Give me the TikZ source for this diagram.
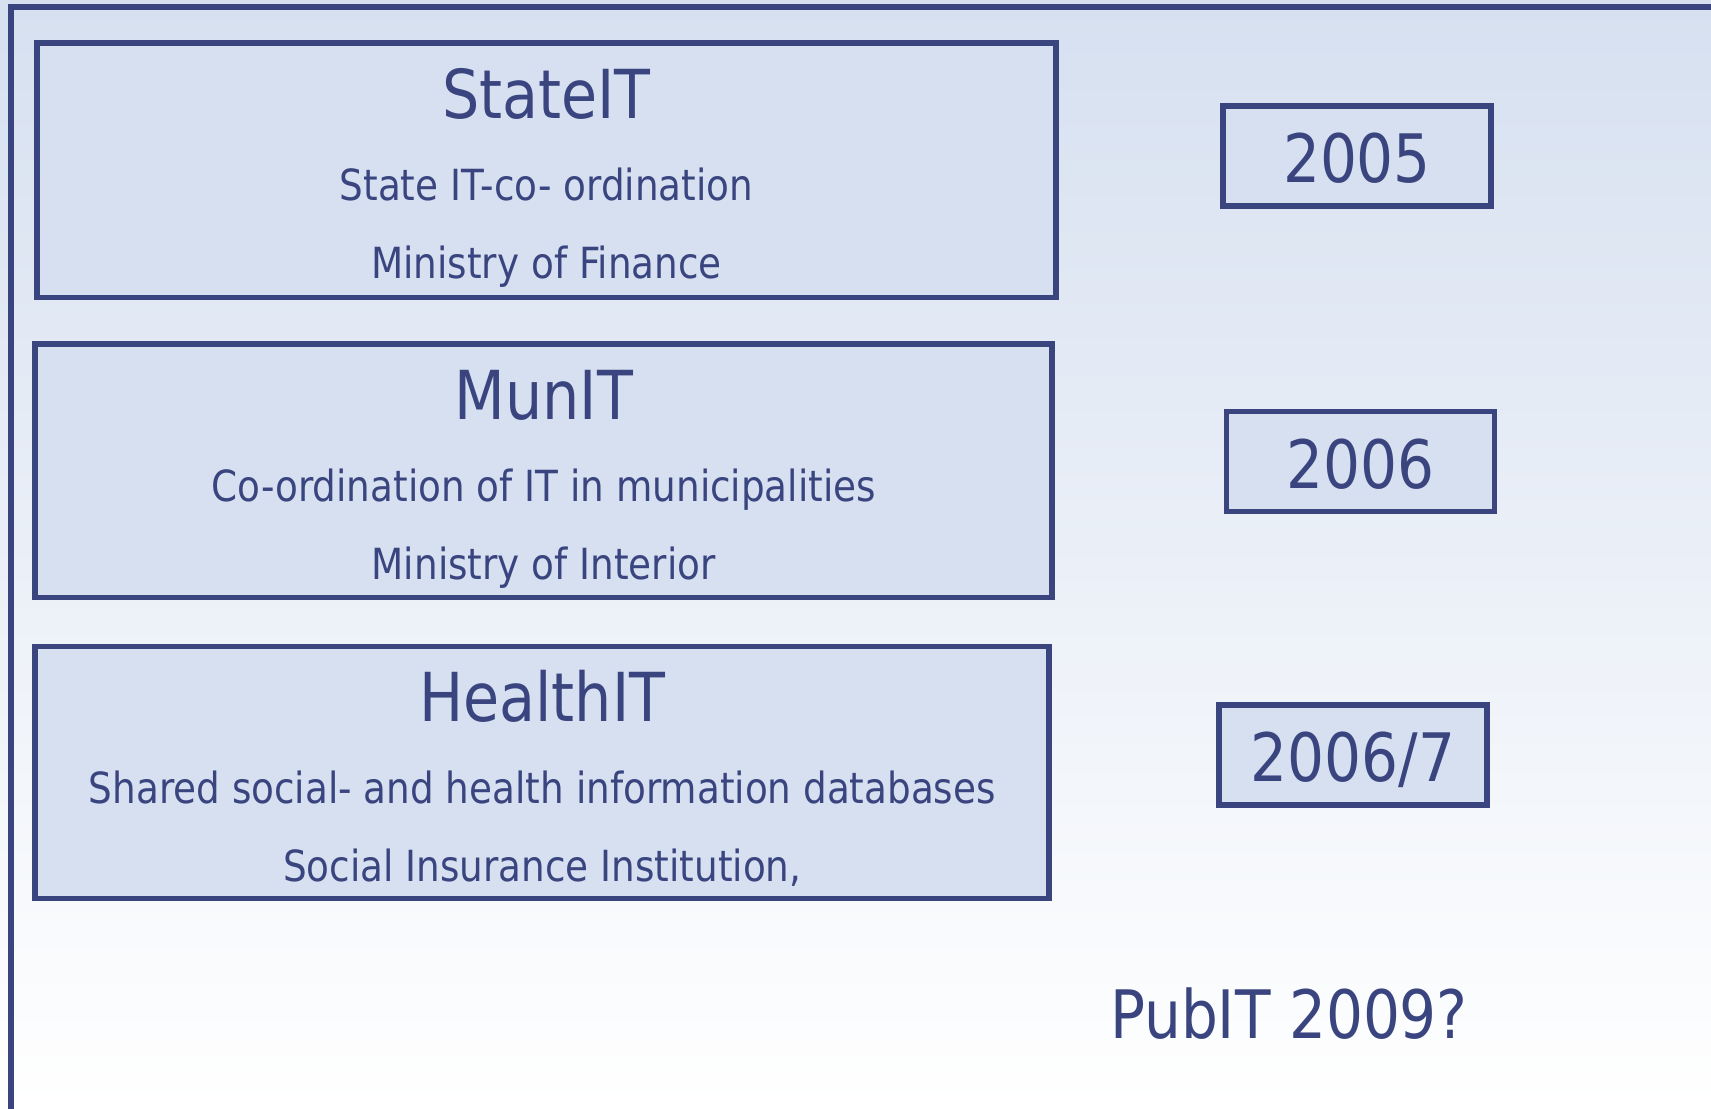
\documentclass[tikz,border=0pt]{standalone}
\usepackage{fontspec}
\setmainfont{DejaVu Sans}[FakeStretch=0.87]
\definecolor{navy}{RGB}{58,69,128}
\definecolor{paleblue}{RGB}{214,224,240}
\begin{document}
\begin{tikzpicture}[x=0.01cm, y=-0.01cm,
  unit/.style={draw=navy, line width=1.6pt, fill=paleblue, rectangle, inner sep=0pt},
  year/.style={draw=navy, line width=1.6pt, fill=paleblue, rectangle, inner sep=0pt, minimum width=2.68cm, minimum height=1cm},
  head/.style={text=navy, anchor=base, inner sep=0pt, font=\fontsize{19.2}{22}\selectfont},
  sub/.style={text=navy, anchor=base, inner sep=0pt, font=\fontsize{12.2}{15}\selectfont},
  big/.style={text=navy, anchor=base, inner sep=0pt, font=\fontsize{19}{22}\selectfont}]
  \useasboundingbox (0,0) rectangle (1711,1109);
  \shade[top color=paleblue, bottom color=white] (0,0) rectangle (1711,1109);
  \coordinate (framebl) at (11,1115);
  \coordinate (frametr) at (1715,7);
  \draw[navy, line width=1.6pt] (framebl) |- (frametr);
  \node[unit, minimum width=10.18cm, minimum height=2.545cm] (state) at (546.5,170.25) {};
  \node[head] (statename) at (546.5,118) {StateIT};
  \node[sub] (statetask) at (546.5,200) {State IT-co- ordination};
  \node[sub] (stateowner) at (546.5,278) {Ministry of Finance};
  \node[unit, minimum width=10.165cm, minimum height=2.535cm] (mun) at (543.75,470.75) {};
  \node[head] (munname) at (543.75,419) {MunIT};
  \node[sub] (muntask) at (543.75,501) {Co-ordination of IT in municipalities};
  \node[sub] (munowner) at (543.75,579) {Ministry of Interior};
  \node[unit, minimum width=10.135cm, minimum height=2.52cm] (health) at (542.25,772.5) {};
  \node[head] (healthname) at (542.25,721.5) {HealthIT};
  \node[sub] (healthtask) at (542.25,803.5) {Shared social- and health information databases};
  \node[sub] (healthowner) at (542.25,881.5) {Social Insurance Institution,};
  \node[year] (y2005) at (1357,156) {};
  \node[big] at (1357,182) {2005};
  \node[year] (y2006) at (1360.5,461.5) {};
  \node[big] at (1360.5,488) {2006};
  \node[year] (y2007) at (1353,755) {};
  \node[big] at (1353,781.5) {2006/7};
  \node[big] (pubit) at (1289,1038) {PubIT 2009?};
\end{tikzpicture}
\end{document}
